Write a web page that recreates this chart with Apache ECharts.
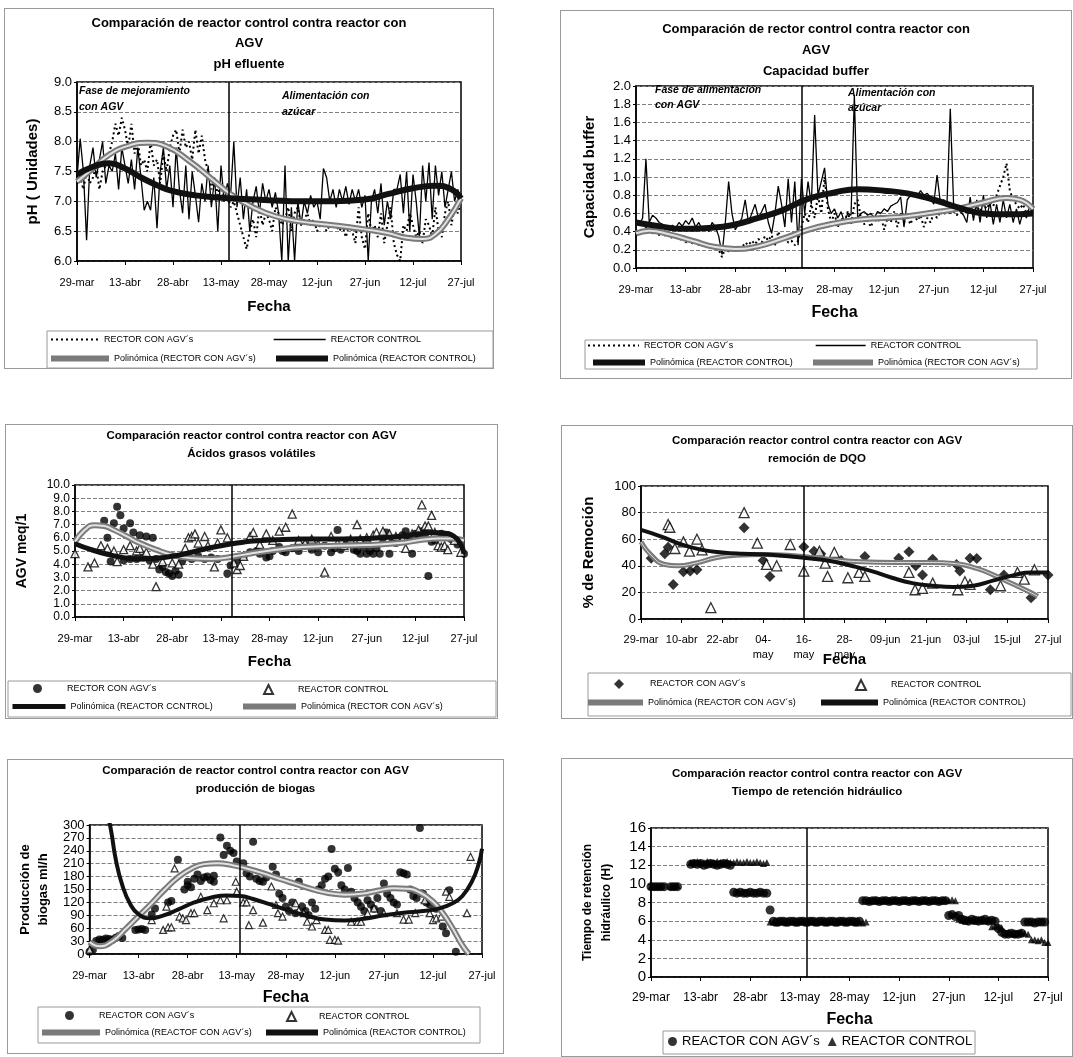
<!DOCTYPE html>
<html lang="es">
<head>
<meta charset="UTF-8">
<title>Comparación reactor control contra reactor con AGV</title>
<script src="https://cdn.jsdelivr.net/npm/echarts@6/dist/echarts.min.js"></script>
<style>
  body { margin: 0; background: #fff; }
  .panel { position: absolute; border: 1px solid #9a9a9a; background: #fff; }
</style>
</head>
<body>
<div id="c1" class="panel" style="left:4px;top:8px;width:488px;height:359px"></div>
<div id="c2" class="panel" style="left:560px;top:10px;width:510px;height:367px"></div>
<div id="c3" class="panel" style="left:5px;top:424px;width:491px;height:293px"></div>
<div id="c4" class="panel" style="left:561px;top:425px;width:510px;height:292px"></div>
<div id="c5" class="panel" style="left:7px;top:759px;width:495px;height:293px"></div>
<div id="c6" class="panel" style="left:561px;top:758px;width:510px;height:297px"></div>
<script>
var FONT = 'Liberation Sans, Arial, sans-serif';

// etiquetas del eje de fechas (dia 0 = 29-mar)
var fechas15 = ['29-mar', '13-abr', '28-abr', '13-may', '28-may', '12-jun', '27-jun', '12-jul', '27-jul'];
var fechas12 = ['29-mar', '10-abr', '22-abr', '04-\nmay', '16-\nmay', '28-\nmay', '09-jun', '21-jun', '03-jul', '15-jul', '27-jul'];

// --- pH efluente (un valor por dia) ---
var phControl = [
  7.4, 8.05, 7.5, 6.35, 7.6, 7.9, 7.4, 7.7, 8.0, 7.3,
  7.6, 7.5, 7.8, 7.2, 7.9, 7.6, 7.3, 7.7, 7.2, 7.9,
  7.4, 6.85, 7.0, 6.85, 7.4, 6.55, 7.5, 7.9, 7.2, 7.6,
  6.9, 7.9, 7.2, 6.8, 7.6, 6.7, 7.5, 7.1, 6.65, 7.3,
  7.0, 7.6, 6.9, 7.4, 6.5, 7.6, 7.0, 7.3, 7.1, 8.0,
  6.9, 7.4, 6.7, 7.2, 6.5, 7.0, 7.25, 6.8, 7.3, 7.0,
  7.2, 6.9, 7.15, 6.8, 6.0, 7.6, 6.0, 6.9, 6.0, 7.0,
  6.6, 7.0, 6.8, 7.1, 6.9, 7.0, 6.7, 7.55, 7.4, 7.0,
  7.2, 6.9, 7.2, 7.0, 7.25, 6.95, 7.2, 7.0, 7.2, 6.9,
  7.1, 6.0, 7.0, 7.2, 6.8, 7.3, 6.6, 7.0, 6.7, 7.2,
  7.2, 7.45, 6.8, 7.5, 6.5, 7.45, 7.0, 6.4, 7.6, 7.0,
  7.65, 6.7, 7.6, 7.1, 7.5, 6.9, 7.2, 7.5, 7.0, 7.2,
  7.0
];
var phAgv = [
  7.3, 7.4, 7.2, 7.5, 7.3, 7.4, 7.6, 7.2, 7.5, 7.6,
  7.8, 8.0, 8.3, 8.1, 8.4, 8.2, 7.9, 8.3, 7.8, 8.0,
  7.6, 7.7, 7.5, 8.0, 7.6, 7.7, 7.3, 7.8, 7.5, 7.9,
  8.1, 8.2, 7.8, 8.2, 7.9, 8.0, 7.7, 8.2, 7.8, 8.1,
  7.7, 7.5, 7.2, 7.4, 7.1, 7.3, 7.0, 7.1, 6.9, 7.0,
  6.8, 6.6, 6.4, 6.2, 6.5, 6.7, 6.4, 6.9, 6.6, 6.8,
  6.7, 6.5, 6.9, 6.8, 6.6, 6.7, 6.9, 6.5, 6.8, 6.9,
  6.6, 6.7, 6.8, 6.6, 6.7, 6.5, 6.6, 6.6, 6.5, 6.6,
  6.55, 6.6, 6.5, 6.6, 6.4, 6.6, 6.5, 6.3, 6.9, 6.4,
  6.2, 6.8, 6.5, 6.6, 6.4, 6.8, 6.3, 6.6, 6.9, 6.3,
  6.1, 6.0, 6.6, 6.5, 6.8, 6.6, 6.4, 6.5, 6.3, 6.7,
  6.6, 6.4, 6.9, 6.5, 6.4, 6.8, 7.0, 6.6, 6.9, 6.8,
  7.0
];
var phPolyControl = [[0, 7.45], [5, 7.58], [10, 7.64], [15, 7.55], [20, 7.4], [25, 7.27], [30, 7.17], [37, 7.1], [45, 7.06], [52, 7.04], [60, 7.02], [70, 7.0], [80, 7.0], [90, 7.03], [97, 7.12], [105, 7.22], [112, 7.26], [117, 7.2], [120, 7.05]];
var phPolyAgv = [[0, 7.33], [5, 7.55], [10, 7.78], [16, 7.93], [22, 7.98], [28, 7.92], [35, 7.68], [42, 7.38], [48, 7.12], [55, 6.9], [62, 6.75], [70, 6.66], [80, 6.6], [90, 6.53], [97, 6.47], [103, 6.39], [108, 6.37], [112, 6.45], [116, 6.7], [120, 7.05]];

// --- capacidad buffer ---
var bufControl = [
  0.52, 0.48, 0.55, 1.2, 0.5, 0.58, 0.55, 0.5, 0.48, 0.45,
  0.42, 0.47, 0.44, 0.5, 0.46, 0.52, 0.48, 0.55, 0.45, 0.5,
  0.42, 0.46, 0.4, 0.5, 0.45, 0.35, 0.15, 0.5, 0.95, 0.6,
  0.42, 0.48, 0.55, 0.75, 0.5, 0.6, 0.7, 0.55, 0.62, 0.7,
  0.5, 0.38, 0.6, 0.9, 0.7, 0.45, 0.98, 0.5, 0.95, 0.25,
  0.98, 0.6, 0.95, 0.7, 1.68, 0.8, 0.95, 1.1, 0.7, 0.6,
  0.65, 0.55, 0.62, 0.5, 0.6, 0.58, 1.9, 0.55, 0.6, 0.62,
  0.58, 0.6, 0.55, 0.62, 0.6, 0.65, 0.62, 0.68, 0.7, 0.72,
  0.78, 0.45, 0.75, 0.8, 0.82, 0.78, 0.85, 0.8, 0.82, 0.78,
  0.7, 1.02, 0.72, 0.75, 0.7, 1.75, 0.7, 0.65, 0.62, 0.58,
  0.5, 0.78, 0.52, 0.75, 0.5, 0.8, 0.55, 0.72, 0.48, 0.7,
  0.5, 0.75, 0.55, 0.7, 0.5, 0.65, 0.48, 0.62, 0.55, 0.68,
  0.6
];
var bufAgv = [
  0.4, 0.42, 0.38, 0.45, 0.4, 0.38, 0.42, 0.36, 0.4, 0.35,
  0.38, 0.32, 0.36, 0.3, 0.34, 0.28, 0.32, 0.27, 0.3, 0.25,
  0.28, 0.24, 0.26, 0.22, 0.25, 0.2, 0.12, 0.22, 0.18, 0.25,
  0.2, 0.24, 0.22, 0.28, 0.25, 0.3, 0.26, 0.32, 0.28, 0.35,
  0.3, 0.36, 0.25, 0.4, 0.3, 0.35, 0.28, 0.3, 0.25, 0.3,
  0.45, 0.6, 0.5, 0.7, 0.55, 0.8, 0.6, 1.0, 0.65, 0.5,
  0.6, 0.45, 0.55, 0.5, 0.62, 0.48, 0.7, 0.75, 0.55, 0.48,
  0.52, 0.45, 0.55, 0.5, 0.58, 0.42, 0.55, 0.5, 0.62, 0.45,
  0.6, 0.5, 0.55, 0.48, 0.6, 0.52, 0.58, 0.45, 0.55, 0.5,
  0.6, 0.55, 0.62, 0.58, 0.65, 0.6, 0.62, 0.58, 0.65, 0.6,
  0.62, 0.7, 0.6, 0.68, 0.62, 0.7, 0.65, 0.72, 0.68, 0.8,
  0.9, 1.0, 1.15, 0.85, 0.75, 0.7, 0.65, 0.7, 0.6, 0.65,
  0.62
];
var bufPolyControl = [[0, 0.5], [7, 0.46], [14, 0.43], [22, 0.44], [29, 0.47], [37, 0.55], [44, 0.63], [52, 0.76], [60, 0.83], [67, 0.865], [75, 0.85], [82, 0.82], [90, 0.75], [97, 0.67], [105, 0.6], [112, 0.59], [120, 0.6]];
var bufPolyAgv = [[0, 0.38], [4, 0.41], [10, 0.37], [17, 0.3], [24, 0.23], [30, 0.21], [37, 0.24], [45, 0.33], [52, 0.42], [60, 0.49], [67, 0.53], [75, 0.55], [82, 0.57], [90, 0.61], [97, 0.65], [105, 0.72], [112, 0.77], [116, 0.75], [120, 0.65]];

// --- acidos grasos volatiles [dia, meq/l] ---
var agvAgv = [[9, 7.3], [10, 6.0], [11, 4.2], [12, 7.1], [13, 8.35], [14, 7.7], [15, 4.3], [15, 6.7], [17, 7.1], [17, 4.4], [18, 6.4], [19, 4.4], [20, 6.2], [21, 4.5], [22, 6.1], [23, 4.3], [24, 6.0], [25, 4.4], [26, 3.6], [27, 3.8], [28, 3.4], [29, 3.3], [30, 3.1], [31, 3.5], [32, 3.2], [33, 4.2], [34, 4.5], [36, 4.4], [38, 4.6], [40, 4.4], [42, 4.5], [44, 4.4], [47, 3.3], [48, 3.9], [50, 4.3], [52, 4.6], [54, 4.9], [56, 5.0], [57, 4.8], [59, 4.5], [60, 4.6], [61, 5.0], [63, 5.3], [64, 5.0], [65, 4.9], [67, 5.2], [69, 5.0], [71, 5.4], [73, 5.1], [75, 4.9], [77, 5.4], [79, 4.9], [80, 5.2], [81, 6.6], [82, 5.1], [84, 5.8], [86, 5.1], [87, 5.0], [88, 4.8], [89, 5.3], [90, 4.8], [91, 5.0], [92, 4.8], [93, 5.2], [94, 4.8], [95, 5.6], [96, 6.4], [97, 4.8], [98, 5.8], [99, 5.6], [100, 6.0], [101, 6.2], [102, 6.5], [103, 6.1], [104, 4.8], [105, 6.3], [106, 6.2], [107, 6.5], [108, 6.3], [109, 3.1], [110, 5.7], [111, 5.8], [112, 6.1], [113, 6.3], [114, 6.2], [115, 6.2], [116, 5.9], [118, 5.5], [120, 4.8]];
var agvControl = [[0, 4.8], [4, 3.8], [6, 4.1], [8, 5.4], [10, 5.2], [12, 5.0], [13, 4.2], [15, 5.1], [17, 5.4], [19, 5.0], [20, 5.2], [22, 4.9], [24, 4.0], [25, 2.3], [27, 4.2], [30, 4.1], [32, 4.0], [34, 5.2], [35, 6.0], [36, 6.1], [37, 6.3], [38, 5.6], [40, 6.1], [41, 5.4], [43, 3.8], [44, 5.6], [45, 6.6], [47, 6.0], [49, 4.1], [50, 3.6], [51, 3.9], [52, 4.6], [54, 6.1], [55, 6.4], [57, 5.5], [59, 6.3], [61, 5.8], [63, 6.5], [65, 6.8], [67, 7.8], [69, 5.8], [71, 5.6], [73, 5.9], [75, 5.5], [77, 3.4], [79, 6.1], [81, 5.6], [83, 5.4], [85, 5.9], [87, 7.0], [88, 5.9], [90, 6.0], [92, 6.2], [93, 6.4], [95, 6.5], [97, 6.3], [99, 6.1], [101, 5.9], [102, 5.2], [104, 6.3], [106, 6.6], [107, 8.5], [108, 6.9], [109, 6.9], [110, 7.7], [111, 6.4], [112, 5.4], [113, 5.3], [114, 5.4], [115, 5.1], [117, 5.8], [119, 4.9]];
var agvPolyControl = [[0, 5.55], [5, 5.1], [10, 4.75], [15, 4.5], [20, 4.4], [25, 4.45], [30, 4.6], [35, 4.85], [40, 5.15], [45, 5.4], [50, 5.6], [55, 5.75], [62, 5.85], [70, 5.9], [80, 5.9], [90, 5.95], [100, 6.1], [106, 6.3], [110, 6.4], [114, 6.35], [117, 6.1], [119, 5.5], [120, 4.8]];
var agvPolyAgv = [[0, 5.7], [3, 6.6], [6, 6.95], [9, 6.9], [12, 6.6], [16, 6.1], [20, 5.6], [25, 5.1], [30, 4.7], [36, 4.45], [42, 4.4], [48, 4.55], [55, 4.85], [62, 5.1], [70, 5.3], [80, 5.4], [90, 5.45], [100, 5.6], [107, 5.85], [112, 5.95], [116, 5.95], [120, 5.8]];

// --- remocion de DQO [dia, %] ---
var dqoAgv = [[3, 45.6], [7, 49], [8, 54], [9.5, 26], [12.5, 35.6], [14.5, 36], [16.5, 37], [30.4, 68.7], [36, 44], [38, 32], [48, 54.4], [51, 51], [53, 49], [59, 44], [66, 47], [76, 45.6], [79, 50.6], [81, 40], [83, 33], [86, 45], [93, 41], [94, 36], [97, 45.7], [99, 45.5], [103, 22], [107, 33], [115, 16], [120, 33]];
var dqoControl = [[8, 71], [8.5, 69], [10, 53], [12.5, 58], [14.3, 51], [16.5, 60], [18, 52], [20.6, 8.5], [30.4, 80], [34.3, 57], [37, 41], [40, 40], [44, 56], [48, 36], [52.6, 51], [54.3, 42], [55, 32], [57, 50], [61, 31], [64.3, 35], [66, 32], [79, 35], [80.8, 22], [83, 23], [86, 27], [93.4, 22], [95.5, 28], [97, 26], [106, 25], [111, 35], [113, 30], [116, 37]];
var dqoPolyControl = [[0, 67], [6, 62], [12, 56], [18, 52], [24, 50], [30, 49], [40, 48], [48, 46], [55, 44], [62, 40], [68, 36], [74, 31], [80, 27], [86, 25], [92, 24], [98, 25], [104, 29], [110, 33], [115, 35], [120, 35]];
var dqoPolyAgv = [[0, 58], [3, 48], [7, 41], [11, 40], [16, 42], [22, 46], [28, 48], [36, 48.5], [45, 47.5], [55, 45], [65, 43], [75, 42.5], [85, 42.5], [93, 41.5], [99, 38], [104, 33], [109, 27], [114, 21], [117, 17]];

// --- produccion de biogas [dia, ml/h] ---
var bioAgv = [[0, 5], [1, 10], [2, 30], [3, 34], [4, 33], [5, 36], [6, 35], [7, 33], [8, 38], [9, 42], [10, 37], [14, 56], [15, 57], [16, 58], [17, 56], [19, 92], [20, 106], [24, 120], [25, 123], [27, 219], [29, 150], [30, 160], [30, 168], [31, 155], [32, 175], [33, 185], [34, 170], [35, 178], [36, 180], [37, 172], [38, 168], [38, 182], [40, 271], [41, 230], [42, 252], [43, 240], [44, 235], [45, 215], [47, 211], [48, 188], [49, 180], [50, 261], [51, 175], [52, 170], [53, 168], [54, 178], [56, 203], [57, 185], [58, 140], [59, 130], [60, 110], [61, 100], [62, 120], [63, 95], [64, 168], [65, 110], [66, 100], [67, 90], [68, 120], [69, 105], [70, 150], [71, 160], [72, 175], [73, 180], [74, 244], [75, 198], [76, 190], [77, 160], [78, 150], [79, 200], [80, 145], [81, 130], [82, 120], [83, 110], [84, 100], [85, 125], [86, 115], [87, 105], [88, 130], [89, 100], [90, 164], [91, 140], [92, 130], [93, 120], [94, 115], [95, 190], [96, 188], [97, 185], [98, 150], [99, 135], [100, 130], [101, 293], [102, 140], [103, 120], [104, 115], [106, 105], [108, 64], [109, 48], [110, 148], [112, 5]];
var bioControl = [[0, 10], [19, 79], [22.5, 56], [23.5, 110], [24, 62], [25, 62], [26, 199], [27.5, 87], [28.5, 83], [29.5, 79], [31, 95], [32, 95], [34, 133], [36, 102], [38, 118], [40, 125], [41, 83], [42, 125], [44.7, 168], [45, 145], [47, 120], [48, 120], [48.7, 67], [50, 102], [53, 73], [55.6, 157], [57, 114], [57.6, 95], [59, 87], [63, 118], [64, 102], [65.5, 95], [66.5, 75], [68, 64], [69.4, 79], [72, 56], [73, 56], [73.5, 33], [75, 33], [76, 31], [80, 75], [82, 75], [83, 75], [85, 95], [87, 106], [90, 95], [94, 95], [96, 80], [97.6, 80], [99.6, 95], [102.5, 125], [104, 95], [105, 79], [106, 83], [107.5, 87], [109, 145], [110, 133], [115.4, 95], [116.5, 226]];
var bioPolyControl = [[5, 340], [6.5, 290], [8, 220], [10, 160], [12.5, 115], [15, 92], [18.5, 83], [22, 88], [27, 103], [32, 120], [37, 131], [42, 136], [46, 135], [50, 128], [55, 116], [60, 103], [66, 90], [72, 80], [78, 78], [84, 82], [90, 90], [96, 96], [102, 100], [107, 106], [111, 118], [114, 135], [117, 170], [119, 210], [120, 245]];
var bioPolyAgv = [[0, 28], [3, 18], [7, 30], [11, 58], [15, 88], [19, 118], [23, 150], [27, 178], [31, 198], [35, 209], [39, 211], [44, 206], [48, 199], [53, 188], [58, 175], [63, 163], [68, 151], [73, 142], [78, 138], [83, 140], [88, 147], [93, 153], [97, 152], [101, 143], [105, 122], [108, 95], [111, 60], [114, 20], [116, 0]];

// --- tiempo de retencion hidraulico (un valor por dia, null = sin dato) ---
var trhAgv = [
  9.7, 9.7, 9.7, 9.7, 9.7, null, 9.7, 9.7, 9.7, null,
  null, null, 12.1, 12.2, 12.1, 12.2, 12.0, 12.1, 12.2, 12.1,
  12.0, 12.1, 12.2, 12.1, 12.0, 9.1, 9.0, 9.1, 9.0, 9.0,
  9.1, 9.0, 9.0, 9.1, 9.0, 9.0, 7.2, 6.0, 5.9, 6.0,
  6.0, 5.9, 6.0, 6.0, 5.9, 6.0, 6.0, 5.9, 6.0, 6.0,
  5.9, 6.0, 6.0, 5.9, 6.0, 6.0, 5.9, 6.0, 6.0, 5.9,
  6.0, 6.0, 5.9, 6.0, 8.2, 8.2, 8.1, 8.2, 8.2, 8.1,
  8.2, 8.2, 8.1, 8.2, 8.2, 8.1, 8.2, 8.2, 8.1, 8.2,
  8.2, 8.1, 8.2, 8.2, 8.1, 8.2, 8.2, 8.1, 8.2, 8.2,
  6.6, 6.7, 6.5, 6.6, 6.2, 6.1, 6.0, 6.2, 6.1, 6.0,
  6.1, 6.2, 6.0, 6.1, 6.0, 5.2, 4.8, 4.6, 4.6, 4.7,
  4.6, 4.6, 4.7, 5.9, 5.9, 5.9, 5.8, 5.9, 5.9, 5.9,
  null
];
var trhControl = [
  9.7, 9.7, 9.7, 9.7, null, null, 9.7, 9.7, 9.8, null,
  null, null, 12.3, 12.3, 12.4, 12.3, 12.3, 12.4, 12.3, 12.3,
  12.4, 12.3, 12.3, 12.4, 12.3, 12.3, 12.4, 12.3, 12.3, 12.4,
  12.3, 12.3, 12.4, 12.3, 12.2, 12.3, 5.9, 5.9, 5.8, 5.9,
  5.9, 5.8, 5.9, 5.9, 5.8, 5.9, 5.9, 5.8, 5.9, 5.9,
  5.8, 5.9, 5.9, 5.8, 5.9, 5.9, 5.8, 5.9, 5.9, 5.8,
  5.9, 5.9, 5.8, 5.9, 5.8, 5.9, 8.2, 8.2, 8.3, 8.2,
  8.2, 8.3, 8.2, 8.2, 8.3, 8.2, 8.2, 8.3, 8.2, 8.2,
  8.3, 8.2, 8.2, 8.3, 8.2, 8.2, 8.3, 8.2, 8.2, 8.3,
  8.2, 8.3, 8.2, 6.2, 6.1, 6.0, 6.2, 6.1, 6.0, 6.2,
  6.1, 6.0, 6.1, 5.4, 5.5, 5.4, 5.3, 4.7, 4.8, 4.7,
  4.6, 4.7, 4.8, 4.7, 4.6, 4.0, 4.0, 3.9, 4.0, 3.7,
  3.7
];

// ---------------------------------------------------------------

function porDia(arr) {
  var out = [];
  arr.forEach(function (v, i) { if (v !== null) out.push([i, v]); });
  return out;
}

function ejeX(labels, step, gap, nameSize, labelSize, margin) {
  return {
    type: 'value', min: 0, max: 120, interval: step,
    name: 'Fecha', nameLocation: 'middle', nameGap: gap, nameMoveOverlap: false,
    nameTextStyle: { fontFamily: FONT, fontSize: nameSize, fontWeight: 'bold', color: '#000' },
    axisLine: { show: true, onZero: false, lineStyle: { color: '#000', width: 1.5 } },
    axisTick: { show: true, length: 4, lineStyle: { color: '#000' } },
    splitLine: { show: false },
    axisLabel: {
      color: '#000', fontFamily: FONT, fontSize: labelSize, margin: margin, lineHeight: 15,
      formatter: function (v) { return labels[Math.round(v / step)]; }
    }
  };
}

function ejeY(min, max, step, dec, name, gap, nameSize, labelSize, nameLH) {
  return {
    type: 'value', min: min, max: max, interval: step,
    name: name, nameLocation: 'middle', nameGap: gap,
    nameTextStyle: { fontFamily: FONT, fontSize: nameSize, fontWeight: 'bold', color: '#000', lineHeight: nameLH || nameSize + 2 },
    axisLine: { show: true, lineStyle: { color: '#000', width: 1.5 } },
    axisTick: { show: true, length: 3, lineStyle: { color: '#000' } },
    splitLine: { show: true, lineStyle: { color: '#808080', type: [4, 2], width: 1 } },
    axisLabel: {
      color: '#000', fontFamily: FONT, fontSize: labelSize, margin: 5,
      formatter: function (v) { return v.toFixed(dec); }
    }
  };
}

function separador(dia) {
  return {
    silent: true, symbol: 'none', label: { show: false },
    lineStyle: { color: '#000', width: 1.5, type: 'solid' },
    data: [{ xAxis: dia }]
  };
}

function polyNegra(name, data, w) {
  return { name: name, type: 'line', data: data, smooth: true, symbol: 'none', z: 5,
    itemStyle: { color: '#111' }, lineStyle: { color: '#111', width: w } };
}

function polyGris(name, data, w) {
  return [
    { name: name, type: 'line', data: data, smooth: true, symbol: 'none', z: 4,
      itemStyle: { color: '#7a7a7a' }, lineStyle: { color: '#7a7a7a', width: w } },
    { name: name + ' ', type: 'line', data: data, smooth: true, symbol: 'none', z: 4, silent: true,
      itemStyle: { color: '#e2e2e2' }, lineStyle: { color: '#e2e2e2', width: Math.max(1, w - 4) } }
  ];
}

// leyenda de linea: un elemento, icono de linea sin simbolo
function leyLinea(name, left, top, w, lw) {
  return { data: [name], left: left, top: top, itemWidth: w, itemHeight: 8, padding: 0,
    selectedMode: false, itemStyle: { opacity: 0 }, lineStyle: { width: lw },
    textStyle: { fontFamily: FONT, fontSize: 9, color: '#000' } };
}

// leyenda de marcador: simbolo pequeno, texto separado
function leySimbolo(name, left, top, size, pad) {
  return { data: [name], left: left, top: top, itemWidth: size, itemHeight: size, padding: 0,
    selectedMode: false,
    textStyle: { fontFamily: FONT, fontSize: 9, color: '#000', padding: [0, 0, 0, pad] } };
}

function caja(x, y, w, h) {
  return { type: 'rect', shape: { x: x, y: y, width: w, height: h }, z: -1,
    style: { fill: 'none', stroke: '#9a9a9a', lineWidth: 1 } };
}

function nota(text, left, top, lh) {
  return { type: 'text', left: left, top: top, z: 10,
    style: { text: text, fontFamily: FONT, fontSize: 10.5, fontStyle: 'italic', fontWeight: 'bold',
      fill: '#000', lineHeight: lh } };
}

function titulo(text, top, size, lh) {
  return { text: text, left: 'center', top: top, padding: 0,
    textStyle: { fontFamily: FONT, fontSize: size, fontWeight: 'bold', color: '#000', lineHeight: lh } };
}

function rejilla(l, t, w, h) {
  return { left: l, top: t, width: w, height: h, show: true, borderColor: '#000', borderWidth: 1.5 };
}

var lineaAgv = { color: '#000', width: 2, type: [2, 3] };
var lineaControl = { color: '#000', width: 1.3 };

// 1. pH efluente
echarts.init(document.getElementById('c1')).setOption({
  animation: false,
  title: titulo('Comparación de reactor control contra reactor con\nAGV\npH efluente', 4, 13, 20.5),
  grid: rejilla(72, 73, 384, 179),
  xAxis: ejeX(fechas15, 15, 38, 15, 11, 14),
  yAxis: ejeY(6, 9, 0.5, 1, 'pH ( Unidades)', 36, 15, 13),
  legend: [
    leyLinea('RECTOR CON AGV´s', 45, 326, 48, 2),
    leyLinea('REACTOR CONTROL', 268, 326, 52, 1.3),
    leyLinea('Polinómica (RECTOR CON AGV´s)', 43, 345, 58, 6),
    leyLinea('Polinómica (REACTOR CONTROL)', 268, 345, 52, 6)
  ],
  graphic: [
    caja(42, 322, 446, 37),
    nota('Fase de mejoramiento\ncon AGV', 74, 74, 16),
    nota('Alimentación con\nazúcar', 277, 79, 16)
  ],
  series: [
    { name: 'RECTOR CON AGV´s', type: 'line', data: porDia(phAgv), symbol: 'none', itemStyle: { color: '#000' }, lineStyle: lineaAgv, z: 2 },
    { name: 'REACTOR CONTROL', type: 'line', data: porDia(phControl), symbol: 'none', itemStyle: { color: '#000' }, lineStyle: lineaControl, z: 3,
      markLine: separador(47.5) }
  ].concat(polyGris('Polinómica (RECTOR CON AGV´s)', phPolyAgv, 6),
    [polyNegra('Polinómica (REACTOR CONTROL)', phPolyControl, 6)])
});

// 2. capacidad buffer
echarts.init(document.getElementById('c2')).setOption({
  animation: false,
  title: titulo('Comparación de rector control contra reactor con\nAGV\nCapacidad buffer', 8, 13, 21),
  grid: rejilla(75, 75, 397, 182),
  xAxis: ejeX(fechas15, 15, 37, 16, 11, 14),
  yAxis: ejeY(0, 2, 0.2, 1, 'Capacidad buffer', 38, 15, 13),
  legend: [
    leyLinea('RECTOR CON AGV´s', 26, 330, 51, 2),
    leyLinea('REACTOR CONTROL', 254, 330, 50, 1.3),
    leyLinea('Polinómica (REACTOR CONTROL)', 29, 347, 52, 6),
    leyLinea('Polinómica (RECTOR CON AGV´s)', 249, 347, 60, 6)
  ],
  graphic: [
    caja(24, 329, 452, 29),
    nota('Fase de alimentación\ncon AGV', 94, 72, 15),
    nota('Alimentación con\nazúcar', 287, 75, 15)
  ],
  series: [
    { name: 'RECTOR CON AGV´s', type: 'line', data: porDia(bufAgv), symbol: 'none', itemStyle: { color: '#000' }, lineStyle: lineaAgv, z: 2 },
    { name: 'REACTOR CONTROL', type: 'line', data: porDia(bufControl), symbol: 'none', itemStyle: { color: '#000' }, lineStyle: lineaControl, z: 3,
      markLine: separador(50) }
  ].concat(polyGris('Polinómica (RECTOR CON AGV´s)', bufPolyAgv, 6),
    [polyNegra('Polinómica (REACTOR CONTROL)', bufPolyControl, 6)])
});

// 3. acidos grasos volatiles
echarts.init(document.getElementById('c3')).setOption({
  animation: false,
  title: titulo('Comparación reactor control contra reactor con AGV\nÁcidos grasos volátiles', 2, 11.5, 18),
  grid: rejilla(64, 60, 394, 132),
  xAxis: ejeX(fechas15, 15, 37, 15, 11, 14),
  yAxis: ejeY(0, 10, 1, 1, 'AGV meq/1', 45, 14, 12),
  legend: [
    leySimbolo('RECTOR CON AGV´s', 27, 259, 9, 20),
    leySimbolo('REACTOR CONTROL', 257, 259, 9, 20),
    leyLinea('Polinómica (REACTOR CCNTROL)', 4, 277, 53, 5),
    leyLinea('Polinómica (RECTOR CON AGV´s)', 234, 277, 53, 6)
  ],
  graphic: [caja(2, 256, 488, 36)],
  series: [
    { name: 'RECTOR CON AGV´s', type: 'scatter', data: agvAgv, symbol: 'circle', symbolSize: 8,
      itemStyle: { color: '#000' }, z: 2, markLine: separador(48.5) },
    { name: 'REACTOR CONTROL', type: 'scatter', data: agvControl, symbol: 'triangle', symbolSize: 8,
      itemStyle: { color: '#fff', borderColor: '#000', borderWidth: 1.3 }, z: 3 }
  ].concat(polyGris('Polinómica (RECTOR CON AGV´s)', agvPolyAgv, 6),
    [polyNegra('Polinómica (REACTOR CCNTROL)', agvPolyControl, 5)])
});

// 4. remocion de DQO
echarts.init(document.getElementById('c4')).setOption({
  animation: false,
  title: titulo('Comparación reactor control contra reactor con AGV\nremoción de DQO', 6, 11.5, 18),
  grid: rejilla(79, 60, 407, 133),
  xAxis: ejeX(fechas12, 12, 33, 15, 11, 13),
  yAxis: ejeY(0, 100, 20, 0, '% de Remoción', 44, 15, 13),
  legend: [
    leySimbolo('REACTOR CON AGV´s', 52, 253, 10, 21),
    leySimbolo('REACTOR CONTROL', 293, 253, 10, 20),
    leyLinea('Polinómica (REACTOR CON AGV´s)', 23, 272, 55, 6),
    leyLinea('Polinómica (REACTOR CONTROL)', 256, 272, 57, 6)
  ],
  graphic: [caja(26, 247, 483, 43)],
  series: [
    { name: 'REACTOR CON AGV´s', type: 'scatter', data: dqoAgv, symbol: 'diamond', symbolSize: 11,
      itemStyle: { color: '#000' }, z: 2, markLine: separador(48) },
    { name: 'REACTOR CONTROL', type: 'scatter', data: dqoControl, symbol: 'triangle', symbolSize: 10,
      itemStyle: { color: '#fff', borderColor: '#000', borderWidth: 1.3 }, z: 3 }
  ].concat(polyGris('Polinómica (REACTOR CON AGV´s)', dqoPolyAgv, 5),
    [polyNegra('Polinómica (REACTOR CONTROL)', dqoPolyControl, 4)])
});

// 5. produccion de biogas
echarts.init(document.getElementById('c5')).setOption({
  animation: false,
  title: titulo('Comparación de reactor control contra reactor con AGV\nproducción de biogas', 2, 11.5, 18),
  grid: rejilla(69, 65, 405, 129),
  xAxis: ejeX(fechas15, 15, 36, 16, 11, 14),
  yAxis: ejeY(0, 300, 30, 0, 'Producción de\nbiogas ml/h', 32, 13, 13, 18),
  legend: [
    leySimbolo('REACTOR CON AGV´s', 57, 251, 9, 20),
    leySimbolo('REACTOR CONTROL', 278, 251, 9, 18),
    leyLinea('Polinómica (REACTOF CON AGV´s)', 31, 268, 58, 6),
    leyLinea('Polinómica (REACTOR CONTROL)', 255, 268, 52, 6)
  ],
  graphic: [caja(30, 247, 442, 36)],
  series: [
    { name: 'REACTOR CON AGV´s', type: 'scatter', data: bioAgv, symbol: 'circle', symbolSize: 8,
      itemStyle: { color: '#000' }, z: 2, markLine: separador(46) },
    { name: 'REACTOR CONTROL', type: 'scatter', data: bioControl, symbol: 'triangle', symbolSize: 7,
      itemStyle: { color: '#fff', borderColor: '#000', borderWidth: 1.2 }, z: 3 }
  ].concat(polyGris('Polinómica (REACTOF CON AGV´s)', bioPolyAgv, 6),
    [polyNegra('Polinómica (REACTOR CONTROL)', bioPolyControl, 4)])
});

// 6. tiempo de retencion hidraulico
echarts.init(document.getElementById('c6')).setOption({
  animation: false,
  title: titulo('Comparación reactor control contra reactor con AGV\nTiempo de retención hidráulico', 6, 11.5, 18),
  grid: rejilla(89, 69, 397, 149),
  xAxis: ejeX(fechas15, 15, 35, 16, 12, 13),
  yAxis: ejeY(0, 16, 2, 0, 'Tiempo de retención\nhidráulico (H)', 35, 12, 15, 19),
  legend: {
    data: ['REACTOR CON AGV´s', 'REACTOR CONTROL'], left: 106, top: 276, itemWidth: 9, itemHeight: 9,
    itemGap: 8, padding: 0, selectedMode: false,
    textStyle: { fontFamily: FONT, fontSize: 13, color: '#000' }
  },
  graphic: [caja(101, 272, 312, 23)],
  series: [
    { name: 'REACTOR CON AGV´s', type: 'scatter', data: porDia(trhAgv), symbol: 'circle', symbolSize: 9,
      itemStyle: { color: '#000' }, z: 2, markLine: separador(47) },
    { name: 'REACTOR CONTROL', type: 'scatter', data: porDia(trhControl), symbol: 'triangle', symbolSize: 7,
      itemStyle: { color: '#000' }, z: 3 }
  ]
});
</script>
</body>
</html>
